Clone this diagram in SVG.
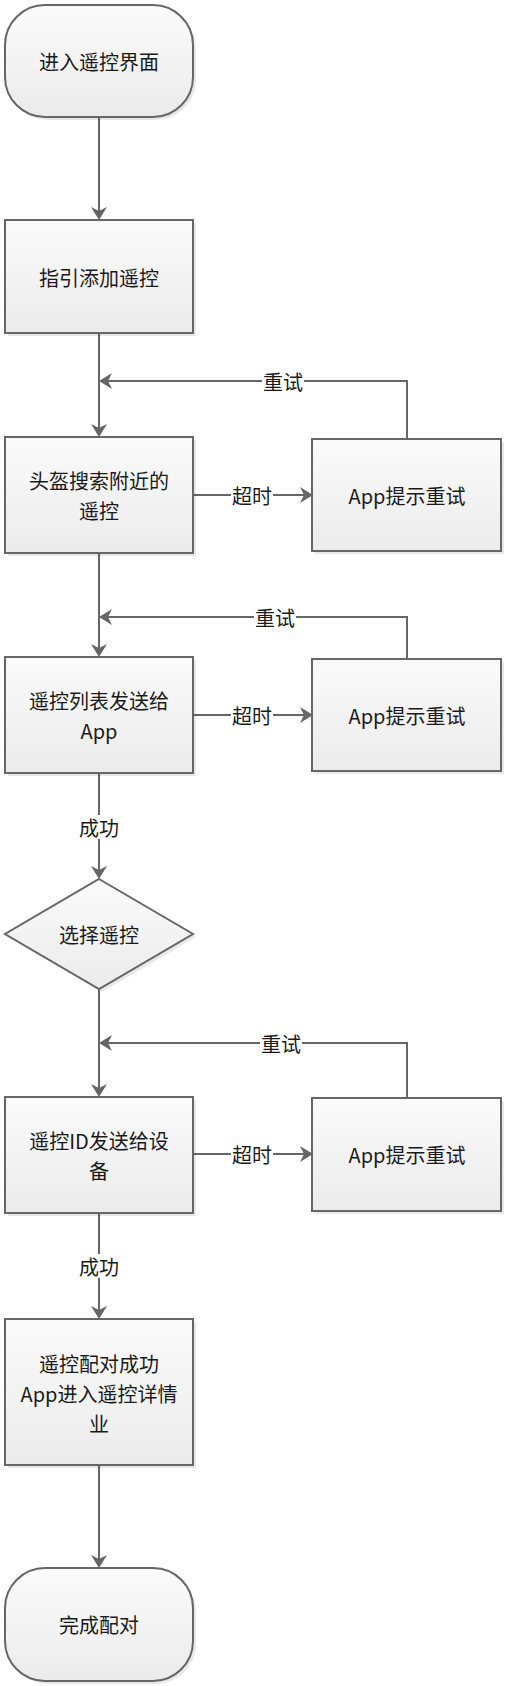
<svg xmlns="http://www.w3.org/2000/svg" width="506" height="1686" viewBox="0 0 506 1686">
<style>
.sh{fill:#000;opacity:0.09}
.box{fill:url(#g);stroke:#666;stroke-width:2}
.t{font-family:"Noto Sans CJK SC","Noto Sans",sans-serif;font-size:20px;fill:#1a1a1a;text-anchor:middle;dominant-baseline:central}
.ln{fill:none;stroke:#666;stroke-width:2;marker-end:url(#arr)}
.ln2{fill:none;stroke:#666;stroke-width:2}
.lb{fill:#fff}
</style>
<defs>
<linearGradient id="g" x1="0" y1="0" x2="0" y2="1">
<stop offset="0" stop-color="#fbfbfb"/>
<stop offset="1" stop-color="#ebebeb"/>
</linearGradient>
<marker id="arr" viewBox="0 0 14 16" refX="4" refY="8" markerWidth="14" markerHeight="16" orient="auto" markerUnits="userSpaceOnUse">
<path d="M13,8 L0,0 L4,8 L0,16 Z" fill="#666"/>
</marker>
</defs>

<g id="connectors">
<path class="ln" d="M99,117 V211"/>
<path class="ln" d="M99,333 V428"/>
<path class="ln" d="M407,439 V381 H108"/>
<path class="ln" d="M193,495 H304"/>
<path class="ln" d="M99,553 V648"/>
<path class="ln" d="M407,659 V617 H108"/>
<path class="ln" d="M193,715 H304"/>
<path class="ln" d="M99,773 V870"/>
<path class="ln" d="M99,989 V1088"/>
<path class="ln" d="M407,1098 V1043 H108"/>
<path class="ln" d="M193,1154 H304"/>
<path class="ln" d="M99,1213 V1310"/>
<path class="ln" d="M99,1465 V1559"/>
<rect class="lb" x="262" y="369" width="42" height="24"/>
<text class="t" x="283" y="381">重试</text>
<rect class="lb" x="231" y="483" width="42" height="24"/>
<text class="t" x="252" y="495">超时</text>
<rect class="lb" x="254" y="605" width="42" height="24"/>
<text class="t" x="275" y="617">重试</text>
<rect class="lb" x="231" y="703" width="42" height="24"/>
<text class="t" x="252" y="715">超时</text>
<rect class="lb" x="78" y="815" width="42" height="24"/>
<text class="t" x="99" y="827">成功</text>
<rect class="lb" x="260" y="1031" width="42" height="24"/>
<text class="t" x="281" y="1043">重试</text>
<rect class="lb" x="231" y="1142" width="42" height="24"/>
<text class="t" x="252" y="1154">超时</text>
<rect class="lb" x="78" y="1254" width="42" height="24"/>
<text class="t" x="99" y="1266">成功</text>
</g>

<g id="n1">
<rect class="sh" x="8" y="8" width="188" height="112" rx="40"/>
<rect class="box" x="5" y="5" width="188" height="112" rx="40"/>
<text class="t" x="99" y="61">进入遥控界面</text>
</g>
<g id="n2">
<rect class="sh" x="8" y="223" width="188" height="113"/>
<rect class="box" x="5" y="220" width="188" height="113"/>
<text class="t" x="99" y="277">指引添加遥控</text>
</g>
<g id="n3">
<rect class="sh" x="8" y="440" width="188" height="116"/>
<rect class="box" x="5" y="437" width="188" height="116"/>
<text class="t" x="99" y="480">头盔搜索附近的</text>
<text class="t" x="99" y="510">遥控</text>
</g>
<g id="n3r">
<rect class="sh" x="315" y="442" width="189" height="112"/>
<rect class="box" x="312" y="439" width="189" height="112"/>
<text class="t" x="407" y="495">App提示重试</text>
</g>
<g id="n4">
<rect class="sh" x="8" y="660" width="188" height="116"/>
<rect class="box" x="5" y="657" width="188" height="116"/>
<text class="t" x="99" y="700">遥控列表发送给</text>
<text class="t" x="99" y="730">App</text>
</g>
<g id="n4r">
<rect class="sh" x="315" y="662" width="189" height="112"/>
<rect class="box" x="312" y="659" width="189" height="112"/>
<text class="t" x="407" y="715">App提示重试</text>
</g>
<g id="n5">
<path class="sh" d="M102,882 L196,937 L102,992 L8,937 Z"/>
<path class="box" d="M99,879 L193,934 L99,989 L5,934 Z"/>
<text class="t" x="99" y="934">选择遥控</text>
</g>
<g id="n6">
<rect class="sh" x="8" y="1100" width="188" height="116"/>
<rect class="box" x="5" y="1097" width="188" height="116"/>
<text class="t" x="99" y="1140">遥控ID发送给设</text>
<text class="t" x="99" y="1170">备</text>
</g>
<g id="n6r">
<rect class="sh" x="315" y="1101" width="189" height="113"/>
<rect class="box" x="312" y="1098" width="189" height="113"/>
<text class="t" x="407" y="1154">App提示重试</text>
</g>
<g id="n7">
<rect class="sh" x="8" y="1322" width="188" height="146"/>
<rect class="box" x="5" y="1319" width="188" height="146"/>
<text class="t" x="99" y="1363">遥控配对成功</text>
<text class="t" x="99" y="1393">App进入遥控详情</text>
<text class="t" x="99" y="1423">业</text>
</g>
<g id="n8">
<rect class="sh" x="8" y="1571" width="188" height="113" rx="40"/>
<rect class="box" x="5" y="1568" width="188" height="113" rx="40"/>
<text class="t" x="99" y="1624">完成配对</text>
</g>
</svg>
